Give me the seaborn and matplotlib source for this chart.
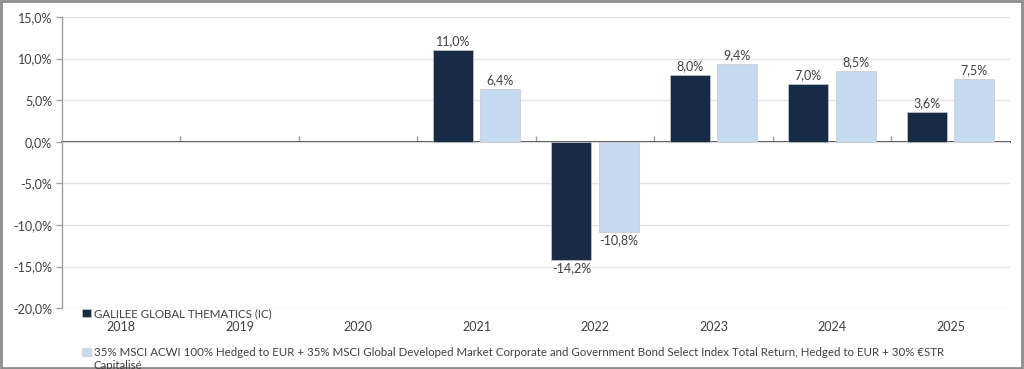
import numpy as np
import pandas as pd
import matplotlib
matplotlib.use("Agg")
import matplotlib.pyplot as plt
import seaborn as sns
from matplotlib.patches import Rectangle
from matplotlib.ticker import FixedLocator, FuncFormatter

years = ["2018", "2019", "2020", "2021", "2022", "2023", "2024", "2025"]
fund_name = "GALILEE GLOBAL THEMATICS (IC)"
bench_name = ("35% MSCI ACWI 100% Hedged to EUR + 35% MSCI Global Developed Market Corporate and "
              "Government Bond Select Index Total Return, Hedged to EUR + 30% €STR")
bench_name_cont = "Capitalisé"
fund_values = [np.nan, np.nan, np.nan, 11.0, -14.2, 8.0, 7.0, 3.6]
bench_values = [np.nan, np.nan, np.nan, 6.4, -10.8, 9.4, 8.5, 7.5]
y_ticks = [-20, -15, -10, -5, 0, 5, 10, 15]

dark = "#172a46"
light = "#c5d9f1"

df = pd.DataFrame({
    "year": years * 2,
    "value": fund_values + bench_values,
    "series": [fund_name] * len(years) + [bench_name] * len(years),
})

sns.set_theme(style="white")
plt.rcParams["font.family"] = ["Lato", "DejaVu Sans"]

fig = plt.figure(figsize=(10.24, 3.69), dpi=100)
ax = fig.add_axes([0.0605, 0.165, 0.9255, 0.789])

sns.barplot(data=df, x="year", y="value", hue="series", order=years,
            hue_order=[fund_name, bench_name], palette=[dark, light],
            width=0.8, gap=0.15, ax=ax, legend=True, saturation=1,
            edgecolor="#c8c8c8", linewidth=0.5)

ax.set_ylim(-20, 15)
ax.set_xlim(-0.5, len(years) - 0.5)
ax.yaxis.set_major_locator(FixedLocator(y_ticks))
ax.yaxis.set_major_formatter(FuncFormatter(lambda v, p: f"{v:.1f}%".replace(".", ",")))
ax.set_xlabel("")
ax.set_ylabel("")

ax.grid(axis="y", color="#e3e3e3", linewidth=1)
ax.set_axisbelow(True)

for s in ["top", "right", "bottom"]:
    ax.spines[s].set_visible(False)
ax.spines["left"].set_color("#a0a0a0")
ax.spines["left"].set_linewidth(1)
ax.tick_params(axis="y", which="major", length=4, width=1, color="#a0a0a0",
               labelsize=9, labelcolor="#404040", pad=3, left=True)
ax.tick_params(axis="x", which="major", length=0, labelsize=9, labelcolor="#404040", pad=9.5)

# zero line as category axis with tick marks between categories
sec = ax.secondary_xaxis(20 / 35)
sec.spines["bottom"].set_color("#a0a0a0")
sec.spines["bottom"].set_linewidth(1)
sec.set_xticks(np.arange(0.5, len(years) - 0.5, 1.0))
sec.set_xticklabels([])
sec.tick_params(axis="x", length=4, width=1, color="#a0a0a0", direction="out")

# data labels
for cont in ax.containers:
    labels = []
    for bar in cont:
        h = bar.get_height()
        labels.append("" if np.isnan(h) else f"{h:.1f}%".replace(".", ","))
    ax.bar_label(cont, labels=labels, padding=2, fontsize=9, color="#404040")

# legend at bottom
leg = ax.get_legend()
handles = leg.legend_handles
leg.remove()
lg = fig.legend(handles, [fund_name, bench_name], loc="upper left",
                bbox_to_anchor=(0.076, 0.178), frameon=False, ncol=1,
                fontsize=8.25, labelcolor="#404040", handlelength=0.75, handleheight=0.75,
                handletextpad=0.3, labelspacing=2.45, borderaxespad=0)
fig.text(0.0915, 0.0, bench_name_cont, fontsize=8.25, color="#404040", va="baseline")

# outer border
fig.add_artist(Rectangle((0.001, 0.002), 0.997, 0.995, transform=fig.transFigure,
                         fill=False, edgecolor="#8c8c8c", linewidth=2))

fig.savefig("out.png", dpi=100)
